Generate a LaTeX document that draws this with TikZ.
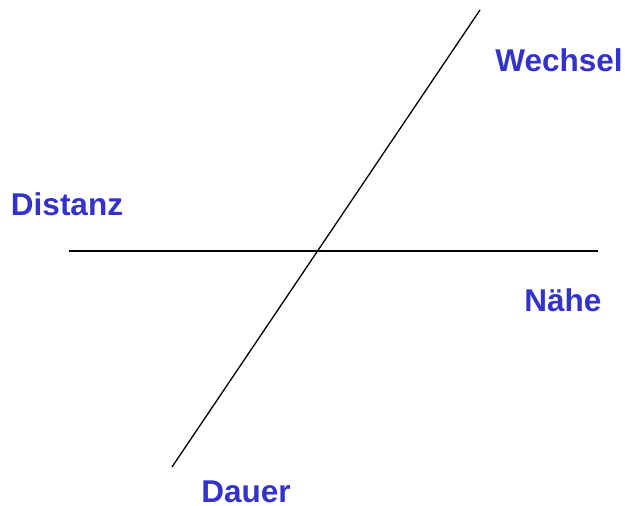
\documentclass[tikz,border=0pt]{standalone}
\usepackage{fontspec}
\setmainfont{Liberation Sans}
\definecolor{lblue}{RGB}{51,51,204}
\begin{document}
\begin{tikzpicture}[x=1pt,y=-1pt,
  lbl/.style={font=\fontsize{31.5}{36}\selectfont\bfseries, text=lblue, inner sep=0pt, anchor=base},
  axis/.style={draw=black, line width=1.3pt}]
\useasboundingbox (0,0) rectangle (625,506);
\coordinate (hl) at (69,251);
\coordinate (hr) at (598,251);
\coordinate (dt) at (480,10);
\coordinate (db) at (172,467);
\draw[axis] (hl) -- (hr);
\draw[axis] (dt) -- (db);
\node[lbl] (wechsel) at (559,71) {Wechsel};
\node[lbl] (distanz) at (67,215) {Distanz};
\node[lbl] (naehe) at (563,311) {Nähe};
\node[lbl] (dauer) at (246,502) {Dauer};
\end{tikzpicture}
\end{document}
